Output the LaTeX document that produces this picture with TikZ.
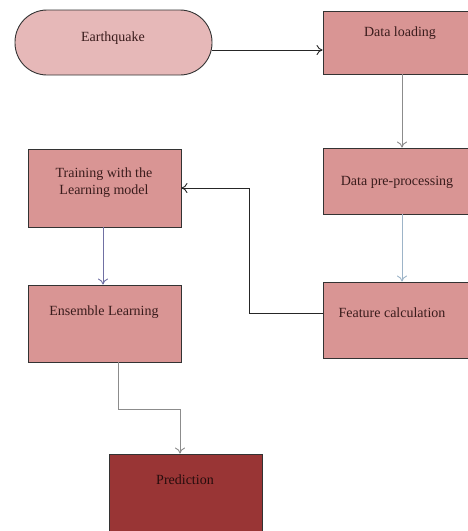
\documentclass[tikz,border=0pt]{standalone}
\usepackage{fontspec}
\setmainfont{Liberation Serif}
\usetikzlibrary{arrows.meta}
\definecolor{boxfill}{HTML}{D99594}
\definecolor{eqfill}{HTML}{E6B8B8}
\definecolor{predfill}{HTML}{993535}
\definecolor{txt}{HTML}{3A1C1C}
\definecolor{greyline}{HTML}{8C8C8C}
\definecolor{blueline}{HTML}{9DB4C8}
\tikzset{
  box/.style={draw=black!80, line width=0.9pt, fill=boxfill, rectangle, inner sep=0pt},
  lbl/.style={text=txt, font=\fontsize{14}{17}\selectfont, align=center, inner sep=0pt},
  arr/.style={-{To[length=6pt,width=10pt]}, line width=0.9pt},
}
\begin{document}
\begin{tikzpicture}[x=1pt,y=-1pt]
\useasboundingbox (0,0) rectangle (468,531);
% shapes
\node[box, fill=eqfill, rounded corners=32pt, minimum width=197pt, minimum height=65pt] (eq) at (113.5,42.5) {};
\node[box, minimum width=150pt, minimum height=63pt] (dl) at (398,42.5) {};
\node[box, minimum width=150pt, minimum height=66pt] (pp) at (398,181) {};
\node[box, minimum width=150pt, minimum height=76pt] (fc) at (398,320) {};
\node[box, minimum width=153pt, minimum height=78pt] (tr) at (104.5,188) {};
\node[box, minimum width=153pt, minimum height=77pt] (en) at (104.5,323.5) {};
\node[box, fill=predfill, minimum width=153pt, minimum height=80pt] (pr) at (185.5,494) {};
% texts
\node[lbl] (teq) at (113,38) {Earthquake};
\node[lbl] (tdl) at (400,33) {Data loading};
\node[lbl] (tpp) at (397,182) {Data pre-processing};
\node[lbl] (tfc) at (392,313) {Feature calculation};
\node[lbl, text depth=0pt] (ttr) at (104,181) {Training with the\\Learning model};
\node[lbl] (ten) at (104,312) {Ensemble Learning};
\node[lbl, text=black!75!predfill] (tpr) at (185,480) {Prediction};
% connectors
\coordinate (c1) at (249,313);
\coordinate (c2) at (249,188);
\coordinate (c3) at (118,409);
\coordinate (c4) at (180,409);
\draw[arr, black!85] (eq.east |- 0,50) -- (dl.west |- 0,50);
\draw[arr, greyline] (dl.south -| 402,0) -- (pp.north -| 402,0);
\draw[arr, blueline] (pp.south -| 402,0) -- (fc.north -| 402,0);
\draw[arr, black!85] (fc.west |- c1) -- (c1) -- (c2) -- (tr.east |- c2);
\draw[arr, greyline!80!blue] (tr.south -| 103,0) -- (en.north -| 103,0);
\draw[arr, greyline] (en.south -| c3) -- (c3) -- (c4) -- (pr.north -| c4);
\end{tikzpicture}
\end{document}
